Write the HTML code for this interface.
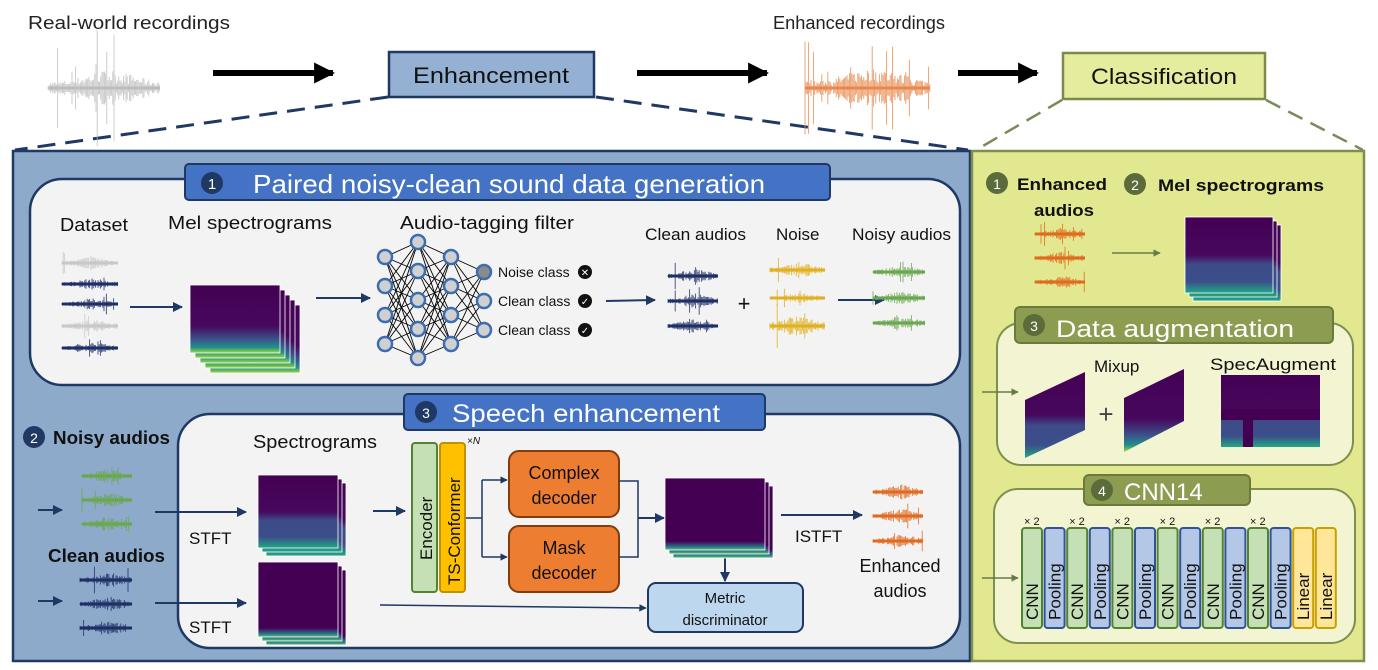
<!DOCTYPE html>
<html><head><meta charset="utf-8">
<style>
html,body{margin:0;padding:0;background:#fff;}
svg{display:block;font-family:"Liberation Sans",sans-serif;}
</style></head>
<body>
<svg id="s" width="1378" height="670" viewBox="0 0 1378 670" xmlns="http://www.w3.org/2000/svg">
<defs>
<linearGradient id="spec" x1="0" y1="0" x2="0" y2="1">
<stop offset="0" stop-color="#440154"/><stop offset="0.6" stop-color="#46085c"/><stop offset="0.8" stop-color="#3b528b"/><stop offset="0.92" stop-color="#21918c"/><stop offset="1" stop-color="#a0da39"/></linearGradient>
<linearGradient id="spec2" x1="0" y1="0" x2="0" y2="1">
<stop offset="0" stop-color="#440154"/><stop offset="0.88" stop-color="#440154"/><stop offset="0.96" stop-color="#2a788e"/><stop offset="1" stop-color="#5ec962"/></linearGradient>
<linearGradient id="spec3" x1="0" y1="0" x2="0" y2="1">
<stop offset="0" stop-color="#440154"/><stop offset="0.5" stop-color="#46085c"/><stop offset="0.62" stop-color="#3e4a89"/><stop offset="0.85" stop-color="#3b4f8a"/><stop offset="1" stop-color="#22a884"/></linearGradient>
<marker id="ah" viewBox="0 0 10 10" refX="9" refY="5" markerWidth="5" markerHeight="5" orient="auto"><path d="M0,0L10,5L0,10z" fill="#1f3864"/></marker>
<marker id="ao" viewBox="0 0 10 10" refX="9" refY="5" markerWidth="5" markerHeight="5" orient="auto"><path d="M0,0L10,5L0,10z" fill="#6b7a45"/></marker>
<marker id="ak" viewBox="0 0 10 10" refX="9" refY="5" markerWidth="3.5" markerHeight="3.5" orient="auto"><path d="M0,0L10,5L0,10z" fill="#000"/></marker>
</defs>

<!-- top row -->
<text x="28" y="29" font-size="18" fill="#222" textLength="202" lengthAdjust="spacingAndGlyphs">Real-world  recordings</text>
<text x="773" y="29" font-size="18" fill="#222" textLength="172" lengthAdjust="spacingAndGlyphs">Enhanced  recordings</text>
<line x1="213" y1="73" x2="333" y2="73" stroke="#000" stroke-width="6" marker-end="url(#ak)"/>
<line x1="637" y1="73" x2="767" y2="73" stroke="#000" stroke-width="6" marker-end="url(#ak)"/>
<line x1="958" y1="73" x2="1037" y2="73" stroke="#000" stroke-width="6" marker-end="url(#ak)"/>
<rect x="389" y="52" width="205" height="45" fill="#94b0d2" stroke="#1f3864" stroke-width="2.5"/>
<text x="491" y="83" font-size="22" text-anchor="middle" fill="#111" textLength="156" lengthAdjust="spacingAndGlyphs">Enhancement</text>
<rect x="1063" y="53" width="202" height="46" fill="#e6ec9e" stroke="#7a8a4a" stroke-width="2.5"/>
<text x="1164" y="84" font-size="22" text-anchor="middle" fill="#111" textLength="146" lengthAdjust="spacingAndGlyphs">Classification</text>
<line x1="388" y1="97" x2="15" y2="150" stroke="#1f3864" stroke-width="3" stroke-dasharray="18,10"/>
<line x1="596" y1="97" x2="968" y2="150" stroke="#1f3864" stroke-width="3" stroke-dasharray="18,10"/>
<line x1="1062" y1="100" x2="976" y2="150" stroke="#7a8a5a" stroke-width="2.5" stroke-dasharray="16,9"/>
<line x1="1266" y1="100" x2="1363" y2="150" stroke="#7a8a5a" stroke-width="2.5" stroke-dasharray="16,9"/>

<!-- left panel -->
<rect x="13" y="151" width="957" height="510" fill="#8eaacb" stroke="#1f3864" stroke-width="2.5"/>
<rect x="30" y="179" width="930" height="206" rx="32" fill="#f3f3f3" stroke="#1f3864" stroke-width="2.5"/>
<rect x="185" y="164" width="645" height="36" rx="4" fill="#4472c4" stroke="#1f3864" stroke-width="2"/>
<circle cx="212" cy="183" r="11" fill="#1f3864"/><text x="212" y="189" font-size="15" fill="#fff" text-anchor="middle">1</text>
<text x="253" y="193" font-size="26" fill="#fff" textLength="512" lengthAdjust="spacingAndGlyphs">Paired noisy-clean sound data generation</text>

<text x="60" y="231" font-size="18" fill="#111" textLength="68" lengthAdjust="spacingAndGlyphs">Dataset</text>
<text x="168" y="229" font-size="18" fill="#111" textLength="164" lengthAdjust="spacingAndGlyphs">Mel spectrograms</text>
<text x="400" y="229" font-size="18" fill="#111" textLength="174" lengthAdjust="spacingAndGlyphs">Audio-tagging filter</text>
<text x="645" y="240" font-size="17" fill="#111" textLength="101" lengthAdjust="spacingAndGlyphs">Clean audios</text>
<text x="776" y="240" font-size="17" fill="#111">Noise</text>
<text x="852" y="240" font-size="17" fill="#111" textLength="99" lengthAdjust="spacingAndGlyphs">Noisy audios</text>
<g id="nn"></g>
<text x="498" y="277" font-size="14" fill="#111">Noise class</text>
<text x="498" y="306" font-size="14" fill="#111">Clean class</text>
<text x="498" y="335" font-size="14" fill="#111">Clean class</text>
<circle cx="585" cy="272" r="7" fill="#111"/><text x="585" y="276" font-size="10" fill="#fff" text-anchor="middle">✕</text>
<circle cx="585" cy="301" r="7" fill="#111"/><text x="585" y="305" font-size="10" fill="#fff" text-anchor="middle">✓</text>
<circle cx="585" cy="330" r="7" fill="#111"/><text x="585" y="334" font-size="10" fill="#fff" text-anchor="middle">✓</text>
<line x1="130" y1="307" x2="182" y2="307" stroke="#1f3864" stroke-width="2" marker-end="url(#ah)"/>
<line x1="316" y1="298" x2="370" y2="298" stroke="#1f3864" stroke-width="2" marker-end="url(#ah)"/>
<line x1="606" y1="301" x2="655" y2="300" stroke="#1f3864" stroke-width="2" marker-end="url(#ah)"/>
<text x="744" y="311" font-size="22" fill="#111" text-anchor="middle">+</text>
<line x1="838" y1="300" x2="884" y2="300" stroke="#1f3864" stroke-width="2" marker-end="url(#ah)"/>

<!-- panel 2 -->
<rect x="178" y="414" width="782" height="234" rx="32" fill="#f3f3f3" stroke="#1f3864" stroke-width="2.5"/>
<rect x="404" y="394" width="361" height="36" rx="4" fill="#4472c4" stroke="#1f3864" stroke-width="2"/>
<circle cx="426" cy="412" r="11" fill="#1f3864"/><text x="426" y="418" font-size="14" fill="#fff" text-anchor="middle">3</text>
<text x="452" y="422" font-size="25" fill="#fff" textLength="268" lengthAdjust="spacingAndGlyphs">Speech enhancement</text>
<circle cx="34" cy="437" r="11" fill="#1f3864"/><text x="34" y="443" font-size="14" fill="#fff" text-anchor="middle">2</text>
<text x="53" y="444" font-size="18" font-weight="bold" fill="#111" textLength="117" lengthAdjust="spacingAndGlyphs">Noisy audios</text>
<text x="48" y="562" font-size="18" font-weight="bold" fill="#111" textLength="117" lengthAdjust="spacingAndGlyphs">Clean audios</text>
<line x1="38" y1="510" x2="62" y2="510" stroke="#1f3864" stroke-width="2" marker-end="url(#ah)"/>
<line x1="38" y1="601" x2="62" y2="601" stroke="#1f3864" stroke-width="2" marker-end="url(#ah)"/>
<line x1="155" y1="512" x2="246" y2="512" stroke="#1f3864" stroke-width="2" marker-end="url(#ah)"/>
<line x1="155" y1="603" x2="246" y2="603" stroke="#1f3864" stroke-width="2" marker-end="url(#ah)"/>
<text x="189" y="544" font-size="17" fill="#111">STFT</text>
<text x="189" y="633" font-size="17" fill="#111">STFT</text>
<text x="253" y="448" font-size="18" fill="#111" textLength="124" lengthAdjust="spacingAndGlyphs">Spectrograms</text>
<line x1="373" y1="511" x2="405" y2="511" stroke="#1f3864" stroke-width="2" marker-end="url(#ah)"/>
<rect x="412" y="443" width="25" height="149" rx="3" fill="#c5e0b4" stroke="#548235" stroke-width="2"/>
<rect x="440" y="443" width="25" height="149" rx="3" fill="#ffc000" stroke="#bf9000" stroke-width="2"/>
<text transform="translate(432,560) rotate(-90)" font-size="17" fill="#111">Encoder</text>
<text transform="translate(460,585) rotate(-90)" font-size="17" fill="#111">TS-Conformer</text>
<text x="467" y="444" font-size="10" font-style="italic" fill="#111">×N</text>
<path d="M466,518 H482 M482,480 V557" stroke="#1f3864" stroke-width="1.5" fill="none"/>
<line x1="482" y1="480" x2="507" y2="480" stroke="#1f3864" stroke-width="1.5" marker-end="url(#ah)"/>
<line x1="482" y1="557" x2="507" y2="557" stroke="#1f3864" stroke-width="1.5" marker-end="url(#ah)"/>
<rect x="509" y="451" width="110" height="66" rx="10" fill="#ed7d31" stroke="#843c0c" stroke-width="2"/>
<rect x="509" y="526" width="110" height="66" rx="10" fill="#ed7d31" stroke="#843c0c" stroke-width="2"/>
<text x="564" y="479" font-size="18" text-anchor="middle" fill="#111">Complex</text>
<text x="564" y="504" font-size="18" text-anchor="middle" fill="#111">decoder</text>
<text x="564" y="554" font-size="18" text-anchor="middle" fill="#111">Mask</text>
<text x="564" y="579" font-size="18" text-anchor="middle" fill="#111">decoder</text>
<path d="M619,481 H638 V557 H619" stroke="#1f3864" stroke-width="1.5" fill="none"/>
<line x1="638" y1="518" x2="664" y2="518" stroke="#1f3864" stroke-width="2" marker-end="url(#ah)"/>
<line x1="725" y1="551" x2="725" y2="581" stroke="#1f3864" stroke-width="2" marker-end="url(#ah)"/>
<rect x="648" y="583" width="155" height="49" rx="8" fill="#bdd7ee" stroke="#1f3864" stroke-width="2"/>
<text x="725" y="603" font-size="15" text-anchor="middle" fill="#111">Metric</text>
<text x="725" y="625" font-size="15" text-anchor="middle" fill="#111">discriminator</text>
<line x1="380" y1="605" x2="646" y2="608" stroke="#1f3864" stroke-width="1.5" marker-end="url(#ah)"/>
<line x1="781" y1="515" x2="862" y2="515" stroke="#1f3864" stroke-width="2" marker-end="url(#ah)"/>
<text x="795" y="542" font-size="17" fill="#111">ISTFT</text>
<text x="900" y="572" font-size="18" text-anchor="middle" fill="#111">Enhanced</text>
<text x="900" y="597" font-size="18" text-anchor="middle" fill="#111">audios</text>

<!-- right panel -->
<rect x="972" y="151" width="392" height="510" fill="#e2e890" stroke="#7f8f4f" stroke-width="2.5"/>
<circle cx="997" cy="183" r="11" fill="#5c6b3a"/><text x="997" y="189" font-size="14" fill="#fff" text-anchor="middle">1</text>
<text x="1017" y="190" font-size="17" font-weight="bold" fill="#111" textLength="90" lengthAdjust="spacingAndGlyphs">Enhanced</text>
<text x="1034" y="216" font-size="17" font-weight="bold" fill="#111" textLength="60" lengthAdjust="spacingAndGlyphs">audios</text>
<circle cx="1135" cy="184" r="11" fill="#5c6b3a"/><text x="1135" y="190" font-size="14" fill="#fff" text-anchor="middle">2</text>
<text x="1158" y="191" font-size="17" font-weight="bold" fill="#111" textLength="166" lengthAdjust="spacingAndGlyphs">Mel spectrograms</text>
<line x1="1112" y1="253" x2="1160" y2="253" stroke="#6b7a45" stroke-width="1.5" marker-end="url(#ao)"/>

<rect x="997" y="323" width="356" height="142" rx="24" fill="#f3f5d2" stroke="#7f8f4f" stroke-width="2"/>
<rect x="1015" y="307" width="318" height="36" rx="5" fill="#8c9c50" stroke="#6b7a3a" stroke-width="2"/>
<circle cx="1034" cy="325" r="11" fill="#5c6b3a"/><text x="1034" y="331" font-size="14" fill="#fff" text-anchor="middle">3</text>
<text x="1056" y="337" font-size="24" fill="#fff" textLength="238" lengthAdjust="spacingAndGlyphs">Data augmentation</text>
<text x="1094" y="372" font-size="17" fill="#111">Mixup</text>
<text x="1210" y="370" font-size="17" fill="#111" textLength="126" lengthAdjust="spacingAndGlyphs">SpecAugment</text>
<line x1="982" y1="392" x2="1018" y2="392" stroke="#6b7a45" stroke-width="1.5" marker-end="url(#ao)"/>
<polygon points="1025,400 1085,372 1085,430 1025,458" fill="url(#spec3)"/>
<polygon points="1124,398 1184,369 1184,421 1124,452" fill="url(#spec)"/>
<text x="1106" y="423" font-size="26" fill="#444" text-anchor="middle">+</text>
<rect x="1221" y="375" width="99" height="72" fill="url(#spec3)"/>
<rect x="1221" y="409" width="99" height="11" fill="#440154"/>
<rect x="1243" y="409" width="10" height="38" fill="#440154"/>

<rect x="994" y="489" width="361" height="154" rx="24" fill="#f3f5d2" stroke="#7f8f4f" stroke-width="2"/>
<rect x="1084" y="475" width="166" height="30" rx="5" fill="#8c9c50" stroke="#6b7a3a" stroke-width="2"/>
<circle cx="1102" cy="490" r="11" fill="#5c6b3a"/><text x="1102" y="496" font-size="14" fill="#fff" text-anchor="middle">4</text>
<text x="1124" y="500" font-size="24" fill="#fff">CNN14</text>
<line x1="982" y1="578" x2="1018" y2="578" stroke="#6b7a45" stroke-width="1.5" marker-end="url(#ao)"/>
<g id="cnn"></g>

<g id="dyn"></g>
</svg>
<script>
(function(){
var NS="http://www.w3.org/2000/svg";
function el(p,t,a,txt){var e=document.createElementNS(NS,t);for(var k in a)e.setAttribute(k,a[k]);if(txt)e.textContent=txt;p.appendChild(e);return e;}
var dyn=document.getElementById('dyn');
var seed=7;function rnd(){seed=(seed*16807)%2147483647;return seed/2147483647;}
function wave(x,y,w,h,col,spk){spk=spk||1.6;var d="";for(var i=0;i<w;i+=1.2){var env=0.3+0.7*Math.exp(-Math.pow((i-w*0.55)/(w*0.3),2));var a=h/2*env*(0.2+0.6*rnd());if(rnd()<0.08)a=h/2*spk*rnd();d+="M"+(x+i).toFixed(1)+","+(y-a).toFixed(1)+"V"+(y+a).toFixed(1);}el(dyn,'path',{d:d,stroke:col,'stroke-width':0.9,fill:'none',opacity:0.85});el(dyn,'line',{x1:x,y1:y,x2:x+w,y2:y,stroke:col,'stroke-width':3});}
function stack(x,y,w,h,n,dx,dy,g){for(var i=n-1;i>=0;i--){el(dyn,'rect',{x:x+i*dx,y:y-i*dy,width:w,height:h,fill:'url(#'+g+')',stroke:'#fff','stroke-width':0.8});}}
wave(48,88,112,45,'#bdbdbd',2.6);wave(805,88,125,50,'#e8884f',2.4);
wave(62,263,56,16,'#c8c8c8');wave(62,284,56,14,'#1f2f66');wave(62,304,56,14,'#1f2f66');wave(62,326,56,16,'#c8c8c8');wave(62,348,56,14,'#1f2f66');
stack(190,285,90,68,5,5,-5,'spec');
wave(668,276,50,18,'#1f2f66');wave(668,301,50,18,'#1f2f66');wave(668,326,50,18,'#1f2f66');
wave(770,270,55,18,'#e0b020');wave(770,298,55,12,'#e0b020');wave(770,326,55,28,'#e0b020');
wave(873,272,52,16,'#6aa84f');wave(873,298,52,16,'#6aa84f');wave(873,323,52,16,'#6aa84f');
wave(82,476,50,18,'#6aa84f');wave(82,500,50,18,'#6aa84f');wave(82,524,50,18,'#6aa84f');
wave(80,580,52,18,'#1f2f66');wave(80,604,52,18,'#1f2f66');wave(80,628,52,18,'#1f2f66');
wave(873,492,50,18,'#e06a1f');wave(873,516,50,18,'#e06a1f');wave(873,541,50,18,'#e06a1f');
wave(1035,234,50,16,'#e06a1f');wave(1035,258,50,16,'#e06a1f');wave(1035,282,50,16,'#e06a1f');
stack(258,475,80,73,3,4,-4,'spec3');
stack(258,562,80,75,3,4,-4,'spec2');
stack(665,478,100,72,3,4,-4,'spec2');
stack(1185,217,88,76,3,4,-4,'spec3');
var nn=document.getElementById('nn');
var L=[[385,[257,286,315,344]],[418,[242,271,300,329,358]],[451,[257,286,315,344]],[484,[272,301,330]]];
for(var l=0;l<3;l++){L[l][1].forEach(function(a){L[l+1][1].forEach(function(b){el(nn,'line',{x1:L[l][0],y1:a,x2:L[l+1][0],y2:b,stroke:'#000','stroke-width':0.9});});});}
L.forEach(function(ly,li){ly[1].forEach(function(y,j){el(nn,'circle',{cx:ly[0],cy:y,r:7,fill:(li==3&&j==0)?'#8a8a8a':'#d0d0d0',stroke:'#3b6db0','stroke-width':2.5});});});
var c=document.getElementById('cnn');var names=[];for(var i=0;i<6;i++){names.push('CNN','Pooling');}names.push('Linear','Linear');
for(var i=0;i<14;i++){var x=1022+i*22.6;var n=names[i];var f=n=='CNN'?'#c5e0b4':n=='Pooling'?'#b4c7e7':'#ffe699';var s=n=='CNN'?'#548235':n=='Pooling'?'#2f5597':'#c9a000';
el(c,'rect',{x:x,y:528,width:20,height:100,rx:3,fill:f,stroke:s,'stroke-width':2});
el(c,'text',{transform:'translate('+(x+16)+',620) rotate(-90)','font-size':17,fill:'#111'},n);
if(n=='CNN')el(c,'text',{x:x+2,y:525,'font-size':11,fill:'#111'},'× 2');}
})();
</script>
</body></html>
